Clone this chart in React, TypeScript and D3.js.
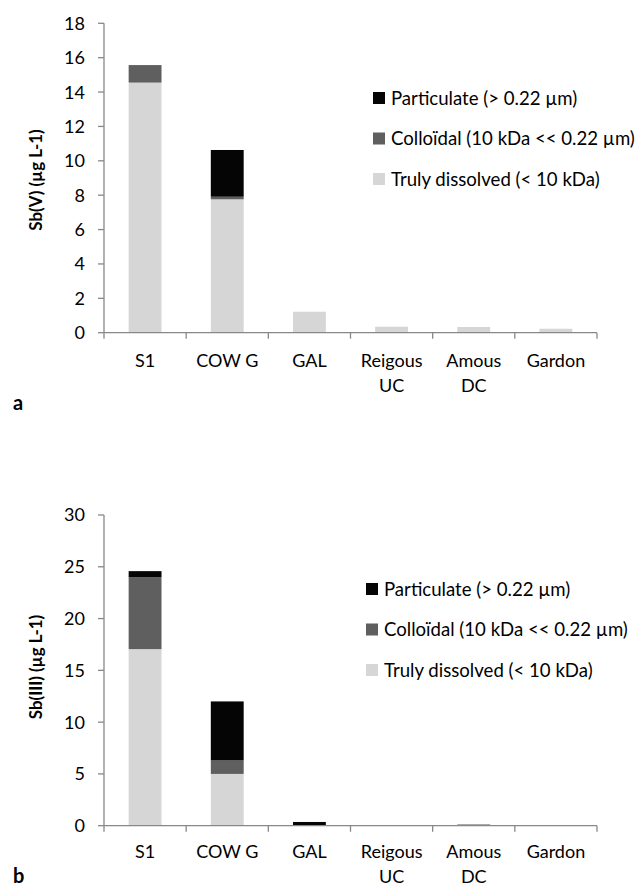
import React from "react";
import * as d3 from "d3";

const categories = ["S1", "COW G", "GAL", "Reigous\nUC", "Amous\nDC", "Gardon"];
const seriesNames = ["Truly dissolved (< 10 kDa)", "Colloïdal (10 kDa << 0.22 µm)", "Particulate (> 0.22 µm)"];
const seriesColors = ["#d6d6d6", "#5f5f5f", "#050505"];

// Panel a: Sb(V)
const sbVTruly = [14.55, 7.76, 1.22, 0.35, 0.33, 0.23];
const sbVColloidal = [1.02, 0.15, 0, 0, 0, 0];
const sbVParticulate = [0, 2.72, 0, 0, 0, 0];
const sbVTicks = [0, 2, 4, 6, 8, 10, 12, 14, 16, 18];

// Panel b: Sb(III)
const sbIIITruly = [17.05, 5.0, 0.03, 0, 0.02, 0];
const sbIIIColloidal = [6.93, 1.3, 0, 0, 0, 0];
const sbIIIParticulate = [0.6, 5.7, 0.33, 0, 0.08, 0];
const sbIIITicks = [0, 5, 10, 15, 20, 25, 30];

const FONT = "Lato, 'Open Sans', sans-serif";
const AXIS = "#888888";

type PanelProps = {
  top: number;
  bottom: number;
  yMax: number;
  ticks: number[];
  truly: number[];
  colloidal: number[];
  particulate: number[];
  yTitle: string;
  titleY: number;
  legendX: number;
  legendY: number;
  labelY: number;
  letter: string;
  letterY: number;
};

function Panel(p: PanelProps) {
  const x0 = 104;
  const x1 = 597;
  const x = d3.scaleBand<string>().domain(categories).range([x0, x1]).paddingInner(0.6).paddingOuter(0.3);
  const band = d3.scaleBand<string>().domain(categories).range([x0, x1]);
  const y = d3.scaleLinear().domain([0, p.yMax]).range([p.bottom, p.top]);
  const rows = categories.map((c, i) => ({ cat: c, t: p.truly[i], c: p.colloidal[i], p: p.particulate[i] }));
  const stack = d3.stack<any>().keys(["t", "c", "p"])(rows);
  const boundaries = categories.map((c) => band(c)!).concat([x1]);
  const legendOrder = [2, 1, 0];
  return (
    <g>
      {stack.map((layer, si) => (
        <g key={si} fill={seriesColors[si]}>
          {layer.map((d, i) =>
            d[1] - d[0] > 0 ? (
              <rect key={i} x={x(categories[i])} width={x.bandwidth()} y={y(d[1])} height={y(d[0]) - y(d[1])} />
            ) : null
          )}
        </g>
      ))}
      {/* y axis */}
      <line x1={x0} x2={x0} y1={p.top} y2={p.bottom} stroke={AXIS} strokeWidth={1.3} />
      {p.ticks.map((t) => (
        <g key={t}>
          <line x1={x0 - 6} x2={x0} y1={y(t)} y2={y(t)} stroke={AXIS} strokeWidth={1.3} />
          <text x={85} y={y(t)} dy="0.36em" textAnchor="end" fontSize={18} fontFamily={FONT} fill="#000">
            {t}
          </text>
        </g>
      ))}
      {/* x axis */}
      <line x1={x0} x2={x1} y1={p.bottom} y2={p.bottom} stroke={AXIS} strokeWidth={1.3} />
      {boundaries.map((b, i) => (
        <line key={i} x1={b} x2={b} y1={p.bottom} y2={p.bottom + 6} stroke={AXIS} strokeWidth={1.3} />
      ))}
      {categories.map((c) => (
        <text key={c} x={band(c)! + band.bandwidth() / 2} y={p.labelY} textAnchor="middle" fontSize={18} fontFamily={FONT} fill="#000">
          {c.split("\n").map((line, li) => (
            <tspan key={li} x={band(c)! + band.bandwidth() / 2} dy={li === 0 ? 0 : 25}>
              {line}
            </tspan>
          ))}
        </text>
      ))}
      {/* y title */}
      <text
        transform={`translate(42,${p.titleY}) rotate(-90)`}
        textAnchor="middle"
        fontSize={16.9}
        fontWeight="bold"
        fontFamily={FONT}
        fill="#000"
      >
        {p.yTitle}
      </text>
      {/* legend */}
      {legendOrder.map((si, k) => (
        <g key={si} transform={`translate(${p.legendX},${p.legendY + k * 40.5})`}>
          <rect x={0} y={-6} width={12} height={12} fill={seriesColors[si]} />
          <text x={18} y={0} dy="0.36em" fontSize={18.6} fontFamily={FONT} fill="#000">
            {seriesNames[si]}
          </text>
        </g>
      ))}
      <text x={13} y={p.letterY} fontSize={20} fontWeight="bold" fontFamily={FONT} fill="#000">
        {p.letter}
      </text>
    </g>
  );
}

export default function App() {
  return (
    <svg width={641} height={888} style={{ position: "absolute", left: 0, top: 0, background: "#fff" }}>
      <rect width={641} height={888} fill="#fff" />
      <Panel
        top={23.3}
        bottom={332.7}
        yMax={18}
        ticks={sbVTicks}
        truly={sbVTruly}
        colloidal={sbVColloidal}
        particulate={sbVParticulate}
        yTitle="Sb(V) (µg L-1)"
        titleY={180}
        legendX={373}
        legendY={98}
        labelY={366.5}
        letter="a"
        letterY={410}
      />
      <Panel
        top={515}
        bottom={825.7}
        yMax={30}
        ticks={sbIIITicks}
        truly={sbIIITruly}
        colloidal={sbIIIColloidal}
        particulate={sbIIIParticulate}
        yTitle="Sb(III) (µg L-1)"
        titleY={667}
        legendX={366}
        legendY={589}
        labelY={857.7}
        letter="b"
        letterY={883}
      />
    </svg>
  );
}
